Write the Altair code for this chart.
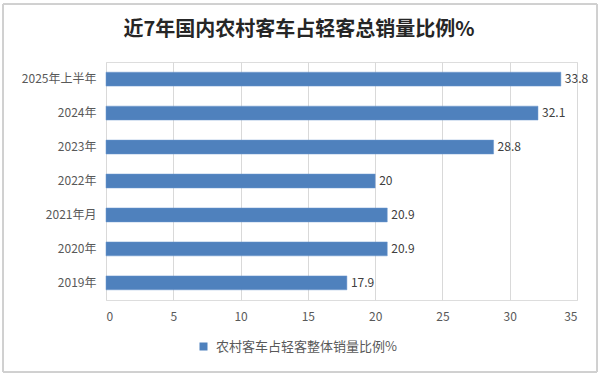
import altair as alt
import pandas as pd

categories = ["2025年上半年", "2024年", "2023年", "2022年", "2021年月", "2020年", "2019年"]
values = [33.8, 32.1, 28.8, 20, 20.9, 20.9, 17.9]
series_name = "农村客车占轻客整体销量比例%"
x_ticks = [0, 5, 10, 15, 20, 25, 30, 35]
title_text = "近7年国内农村客车占轻客总销量比例%"

df = pd.DataFrame({"cat": categories, "val": values, "series": series_name})

FONT = "Noto Sans CJK SC"
BAR = "#4f81bd"

base = alt.Chart(df)

bars = base.mark_bar(color=BAR, stroke="#6a97cf", strokeWidth=0.5).encode(
    y=alt.Y("cat:N", sort=categories, title=None,
            scale=alt.Scale(paddingInner=0.59, paddingOuter=0.3),
            axis=alt.Axis(domain=False, ticks=False, labelColor="#595959",
                          labelFontSize=12, labelPadding=10, labelFont=FONT)),
    x=alt.X("val:Q", title=None,
            scale=alt.Scale(domain=[0, 35], nice=False),
            axis=alt.Axis(values=x_ticks, domain=False, ticks=False,
                          grid=True, gridColor="#d9d9d9", labelColor="#595959",
                          labelFontSize=12, labelPadding=11, labelFont=FONT)),
    color=alt.Color("series:N", scale=alt.Scale(range=[BAR]), title=None,
                    legend=alt.Legend(orient="none", legendX=91, legendY=278,
                                      symbolType="square", symbolSize=64,
                                      labelFontSize=13, labelColor="#595959",
                                      labelFont=FONT, symbolStrokeWidth=0,
                                      labelOffset=6, labelLimit=0)),
)

labels = base.mark_text(align="left", baseline="middle", dx=4, fontSize=12,
                        color="#404040", font=FONT).encode(
    y=alt.Y("cat:N", sort=categories),
    x="val:Q",
    text=alt.Text("val:Q"),
)

border = base.mark_rect(fill=None, stroke="#d0d0d0", strokeWidth=1).encode(
    x=alt.value(-103), x2=alt.value(491), y=alt.value(-58), y2=alt.value(310)
)

title = alt.Chart(pd.DataFrame({"t": [title_text]})).mark_text(
    fontSize=20, font=FONT, fontWeight="bold", color="#262626",
    align="center", baseline="middle"
).encode(text="t:N", x=alt.value(193), y=alt.value(-32))

chart = alt.layer(border, bars, labels, title).properties(
    width=471, height=238,
    padding={"left": 106, "top": 62, "right": 23, "bottom": 76},
    autosize=alt.AutoSizeParams(type="none"),
).configure_view(stroke=None).configure(background="white")

chart.save("out.html", embed_options={"renderer": "svg", "actions": False})
